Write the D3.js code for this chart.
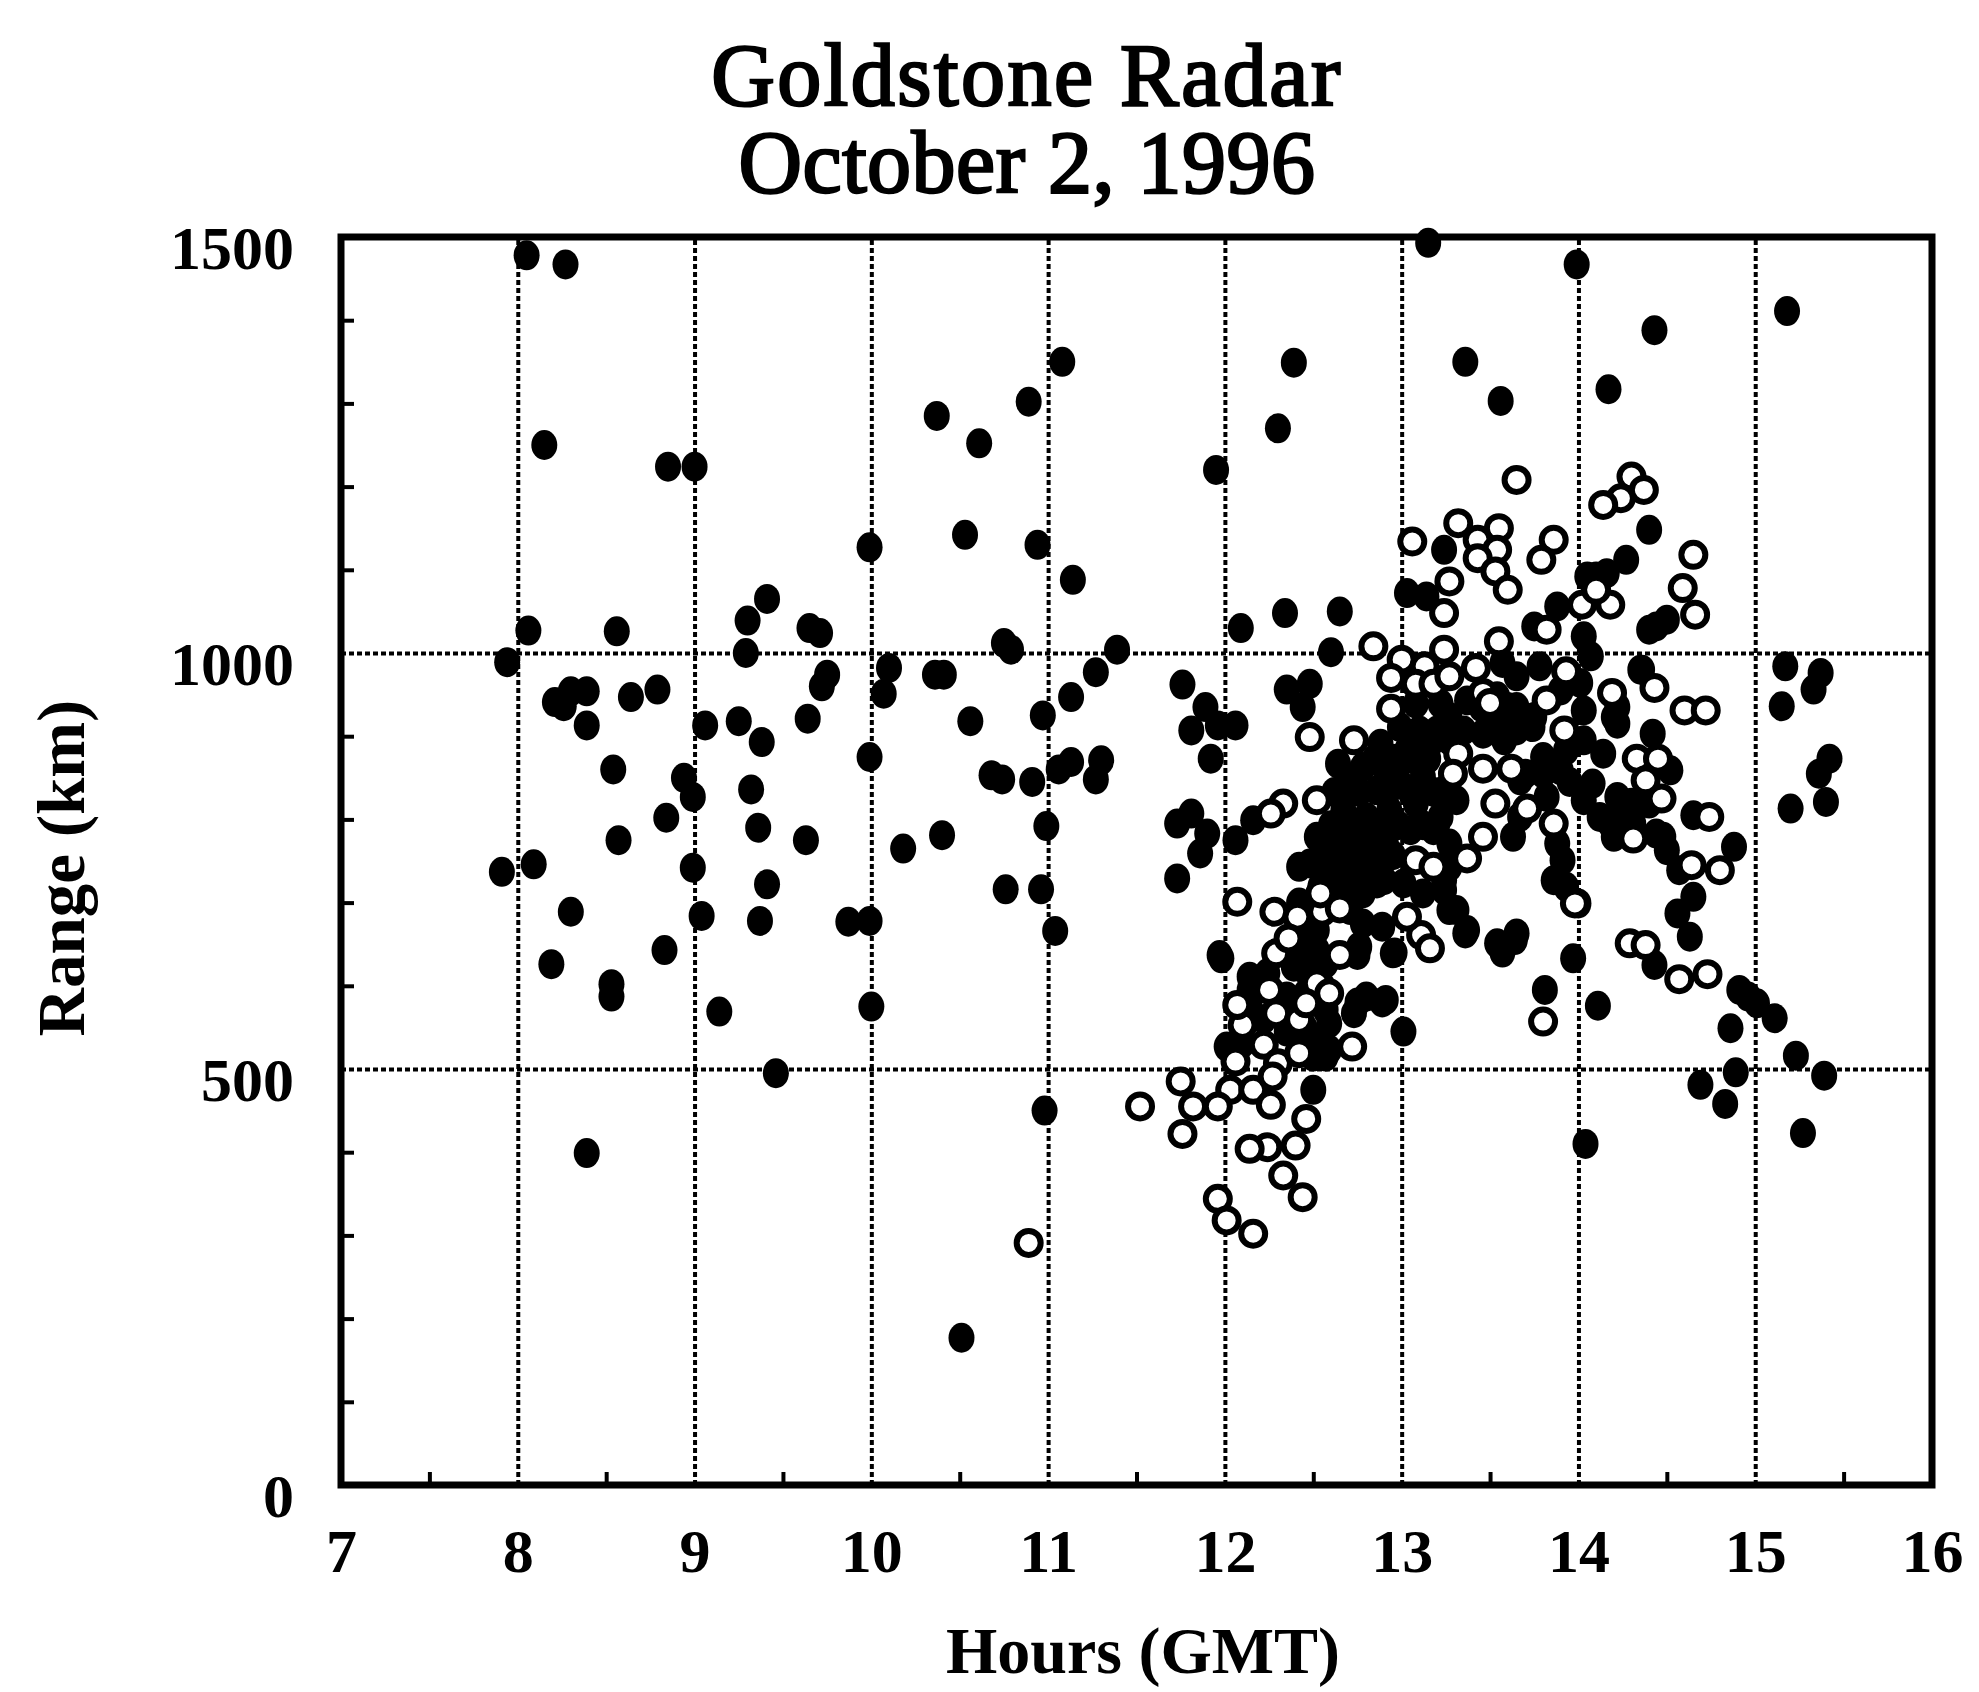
<!DOCTYPE html>
<html>
<head>
<meta charset="utf-8">
<script src="https://cdn.jsdelivr.net/npm/d3@7"></script>
<style>
    body { margin: 0; background: #fff; }
    text { font-family: "Liberation Serif", serif; fill: #000; }
    .axis path { display: none; }
    .axis line { stroke: #000; stroke-width: 4; }
    .axis text { font-size: 62px; font-weight: bold; }
    .grid path { display: none; }
    .grid line { stroke: #000; stroke-width: 4; stroke-dasharray: 5 3; }
</style>
</head>
<body>
<svg id="chart" width="1979" height="1692"></svg>
<script>
let xTicks = [7, 8, 9, 10, 11, 12, 13, 14, 15, 16];
let xMinorTicks = [7.5, 8.5, 9.5, 10.5, 11.5, 12.5, 13.5, 14.5, 15.5];
let yTicks = [0, 500, 1000, 1500];
let yMinorTicks = [100, 200, 300, 400, 600, 700, 800, 900, 1100, 1200, 1300, 1400];

// filled markers, [hours, km]
let filledLeft = [
    [8.05,1478],[8.27,1467],[8.15,1250],[8.85,1224],[9.0,1224],[8.06,1027],[7.94,989],[8.56,1026],
    [9.3,1039],[9.41,1065],[9.29,1000],[9.71,1024],[9.65,1030],[9.75,974],[9.72,960],[9.99,1127],[10.1,982],[10.07,951],
    [10.36,974],[10.41,974],[10.37,1285],[10.61,1252],[10.89,1302],[11.08,1350],[10.53,1142],
    [10.94,1130],[11.14,1088],[10.75,1012],[10.79,1004],[11.27,977],[11.39,1004],[11.13,947],
    [10.97,925],[10.56,918],[8.21,941],[8.26,936],[8.39,954],[8.3,954],[8.39,913],[8.64,947],
    [8.79,956],[9.06,913],[9.25,918],[9.38,893],[9.64,921],[8.54,860],[8.94,850],[8.99,827],
    [9.32,836],[8.84,802],[9.36,790],[8.57,775],[9.63,775],[9.99,875],[10.18,765],[10.4,781],
    [7.91,737],[8.09,746],[8.99,742],[8.3,689],[9.04,684],[9.41,722],[9.37,678],[9.87,677],
    [9.99,678],[8.19,626],[8.83,643],[8.53,602],[8.53,587],[9.14,569],[10.0,575],[9.46,495],
    [8.39,399],[10.51,177],[10.98,450],[10.68,853],[10.74,848],[10.91,845],[11.06,860],[11.13,869],
    [11.3,871],[11.27,848],[10.99,792],[10.96,716],[10.76,716],[11.04,666]
];
let filledRight = [
    [13.15,1493],[13.99,1467],[15.18,1411],[14.43,1388],[13.36,1350],[13.56,1303],[14.17,1317],
    [12.39,1349],[12.3,1270],[11.95,1220],[12.09,1030],[12.34,1048],[12.65,1050],[12.6,1001],
    [14.4,1148],[14.27,1112],[14.1,1092],[14.05,1092],[14.16,1096],[13.03,1072],[13.14,1068],[13.24,1124],
    [14.4,1028],[14.5,1040],[15.17,984],[15.37,976],[15.33,956],[15.15,936],[15.42,873],[15.36,855],
    [15.4,821],[15.2,813],[14.88,767],[14.65,707],[14.56,687],[14.63,659],[14.57,739],[14.65,805],
    [14.48,779],[14.5,763],[14.52,859],[14.42,903],[14.35,980],[14.2,923],[14.22,915],[14.22,935],[14.44,1032],[14.43,625],
    [14.91,595],[14.96,587],[15.01,579],[15.11,561],[14.86,549],[15.23,516],[14.89,496],[14.69,481],
    [14.83,458],[15.39,492],[15.27,423],[14.04,410],[14.11,576],[13.97,633],[13.81,595],[13.57,640],
    [13.64,655],[13.36,663],[12.96,640],[12.75,637],[13.01,545],[12.89,580],[12.75,580]
];
let filledEvening = [
    [11.76,962],[11.89,935],[11.81,907],[12.06,913],[11.92,873],[11.96,913],[12.35,956],[12.48,963],[12.44,935],
    [11.81,807],[11.73,795],[11.9,783],[11.86,759],[11.73,729],[12.06,775],[12.16,799],[11.98,633],
    [13.88,1056],[13.75,1032],[14.03,1020],[14.07,996],[14.01,964],[13.65,972],[13.78,984],[13.57,988],
    [13.54,948],[13.65,935],[13.59,911],[13.75,923],[14.03,931],[13.9,955],[13.93,883],[13.8,875],
    [14.03,895],[14.14,879],[13.67,847],[13.9,859],[14.08,843],[14.22,827],[14.18,795],[14.2,779],
    [14.31,795],[14.44,783],[14.4,819],[13.82,827],[13.63,779],[13.67,803],[14.36,980],[13.88,771],
    [13.91,751],[13.86,727],[13.93,719],[14.0,699],[13.37,667],[13.31,691],[13.24,715],[13.12,711],
    [13.54,651],[13.65,663],[11.97,637],[12.95,639],[12.78,675],[12.71,691],[12.86,723],[13.01,723],
    [13.37,943],[13.56,923],[13.65,923],[13.74,911],[13.58,895],[13.46,903],[13.27,923],[13.22,939],
    [13.08,939],[12.99,911],[12.88,891],[12.78,863],[12.90,863],[13.03,883],[13.16,891],[13.27,895],
    [12.71,843],[12.86,835],[12.99,843],[13.12,851],[13.24,835],[12.67,811],[12.80,803],[12.93,811],
    [13.08,819],[13.22,803],[13.31,823],[12.52,779],[12.65,775],[12.78,771],[12.91,771],[13.05,787],
    [13.18,787],[13.27,771],[12.48,747],[12.61,743],[12.74,743],[12.88,747],[12.54,719],[12.67,715],
    [12.78,711],[12.90,727],[13.24,727],[13.27,743],[12.64,867],
    [12.80,587],[12.91,583],[12.73,567],[12.50,475],[12.14,611],[12.14,583],[12.24,615],[12.39,623],
    [12.52,643],[12.52,667],[12.46,591],[12.59,555],[12.52,535],[12.57,515],[12.10,531],[12.01,527],
    [12.76,647],[12.61,735],[12.42,743],[12.89,671],[13.27,691],[12.3,580],[12.35,545],[12.45,550],[12.22,560]
];
let filledCore = [
    [12.85,873],[12.95,873],[13.05,873],[13.15,873],[12.62,833],[12.76,833],[12.92,833],[13.05,833],[13.18,833],
    [12.6,793],[12.72,793],[12.86,793],[12.98,793],[13.12,793],[13.2,793],[12.55,757],[12.68,757],[12.82,757],
    [12.95,757],[12.6,731],[12.7,731],[12.8,731],[12.6,703],[12.7,703],[13.1,907],[13.2,907],[13.35,907],
    [13.5,907],[13.65,907],[13.45,935],[13.6,935],[13.7,855],[13.8,855],[13.95,845],[14.12,803],[14.03,823],
    [14.25,800],[14.3,820],[12.14,595],[12.42,643],[12.47,655],[12.57,627],[12.35,587],[12.57,571],
    [12.59,523],[12.5,515],[12.42,700],[12.5,700],[12.45,620],[12.55,600]
];

// open markers, [hours, km]
let openMarkers = [
    [13.65,1208],[14.30,1212],[14.37,1196],[14.24,1186],[14.14,1178],[13.32,1156],[13.55,1150],[13.43,1136],
    [13.54,1124],[13.43,1114],[13.53,1098],[13.60,1076],[13.06,1134],[13.86,1136],[13.79,1112],[13.27,1086],
    [13.24,1048],[13.24,1004],[13.55,1014],[13.82,1028],[14.02,1058],[14.18,1058],[14.1,1076],[12.84,1008],
    [13.0,992],[13.13,984],[13.42,982],[12.94,970],[13.08,963],[13.18,963],[13.27,972],[13.93,978],
    [13.46,952],[13.5,940],[12.94,933],[12.73,895],[12.48,899],[13.82,943],[13.92,907],[13.32,879],
    [13.29,855],[13.46,861],[13.62,861],[14.33,873],[14.45,873],[14.19,952],[14.43,958],[12.52,823],
    [12.33,819],[12.26,807],[13.46,779],[13.86,795],[13.71,813],[13.53,819],[14.31,777],
    [14.47,825],[13.08,751],[13.18,743],[13.37,753],[13.98,699],[12.07,701],[12.28,689],[12.41,683],
    [12.55,689],[12.65,693],[12.54,711],[13.11,661],[13.16,645],[14.29,651],[14.38,649],[12.29,639],
    [14.65,1118],[14.59,1078],[14.66,1046],[14.6,931],[14.72,931],[14.38,847],[14.74,803],
    [14.8,739],[14.64,745],[14.57,608],[14.73,614],[13.8,557],
    [11.52,455],[11.75,485],[11.82,455],[11.76,422],[12.03,475],[12.16,475],[12.26,457],[11.96,455],
    [12.1,553],[12.22,529],[12.30,507],[12.42,519],[12.72,527],[13.03,683],[12.46,440],
    [12.4,408],[12.24,406],[12.14,404],[12.33,372],[12.44,346],[11.96,344],[12.01,318],[12.16,302],
    [12.25,595],[12.29,567],[12.07,577],[12.06,509],[12.27,491],[10.89,291],
    [12.42,559],[12.52,603],[12.59,591],[12.46,579],[12.36,657],[12.65,637]
];

let titleLines = ["Goldstone Radar", "October 2, 1996"];
let xLabel = "Hours (GMT)";
let yLabel = "Range (km)";

let plot = { left: 341, right: 1932, top: 237, bottom: 1485 };

let svg = d3.select("#chart");

let xScale = d3.scaleLinear().domain([7, 16]).range([plot.left, plot.right]);
let yScale = d3.scaleLinear().domain([0, 1500]).range([plot.bottom, plot.top]);

// dotted grid on the major ticks
svg.append("g")
    .attr("class", "grid")
    .attr("transform", "translate(0," + plot.bottom + ")")
    .call(d3.axisBottom(xScale).tickValues(xTicks.slice(1, -1)).tickSize(-(plot.bottom - plot.top)).tickFormat(""));
svg.append("g")
    .attr("class", "grid")
    .attr("transform", "translate(" + plot.left + ",0)")
    .call(d3.axisLeft(yScale).tickValues(yTicks.slice(1, -1)).tickSize(-(plot.right - plot.left)).tickFormat(""));

// short inner ticks
svg.append("g")
    .attr("class", "axis")
    .attr("transform", "translate(0," + plot.bottom + ")")
    .call(d3.axisBottom(xScale).tickValues(xMinorTicks).tickSize(-13).tickFormat(""));
svg.append("g")
    .attr("class", "axis")
    .attr("transform", "translate(" + plot.left + ",0)")
    .call(d3.axisLeft(yScale).tickValues(yMinorTicks).tickSize(-13).tickFormat(""));

// major ticks and labels
svg.append("g")
    .attr("class", "axis")
    .attr("transform", "translate(0," + plot.bottom + ")")
    .call(d3.axisBottom(xScale).tickValues(xTicks).tickSize(0).tickPadding(43).tickFormat(d3.format("d")));
svg.append("g")
    .attr("class", "axis")
    .attr("transform", "translate(" + plot.left + ",0)")
    .call(d3.axisLeft(yScale).tickValues(yTicks).tickSize(0).tickPadding(47).tickFormat(d3.format("d")))
    .selectAll("text")
    .attr("dy", "0.5em");

svg.append("g")
    .selectAll("ellipse")
    .data(filledLeft.concat(filledRight, filledEvening, filledCore))
    .enter()
    .append("ellipse")
    .attr("cx", function (d) { return xScale(d[0]); })
    .attr("cy", function (d) { return yScale(d[1]); })
    .attr("rx", 13)
    .attr("ry", 15)
    .attr("fill", "#000");

svg.append("g")
    .selectAll("circle")
    .data(openMarkers)
    .enter()
    .append("circle")
    .attr("cx", function (d) { return xScale(d[0]); })
    .attr("cy", function (d) { return yScale(d[1]); })
    .attr("r", 12)
    .attr("fill", "#fff")
    .attr("stroke", "#000")
    .attr("stroke-width", 6);

// frame on top of the marks
svg.append("rect")
    .attr("x", plot.left)
    .attr("y", plot.top)
    .attr("width", plot.right - plot.left)
    .attr("height", plot.bottom - plot.top)
    .attr("fill", "none")
    .attr("stroke", "#000")
    .attr("stroke-width", 7);

svg.selectAll(".title")
    .data(titleLines)
    .enter()
    .append("text")
    .attr("class", "title")
    .attr("x", 1027)
    .attr("y", function (d, i) { return 105 + i * 87; })
    .attr("text-anchor", "middle")
    .attr("font-size", 88)
    .style("letter-spacing", function (d, i) { return i == 0 ? "2.5px" : "0.5px"; })
    .style("stroke", "#000")
    .style("stroke-width", "2.5px")
    .text(function (d) { return d; });

svg.append("text")
    .attr("x", 1143)
    .attr("y", 1673)
    .attr("text-anchor", "middle")
    .attr("font-size", 66)
    .attr("font-weight", "bold")
    .text(xLabel);

svg.append("text")
    .attr("transform", "translate(84,868) rotate(-90)")
    .attr("text-anchor", "middle")
    .attr("font-size", 67)
    .attr("font-weight", "bold")
    .text(yLabel);
</script>
</body>
</html>
